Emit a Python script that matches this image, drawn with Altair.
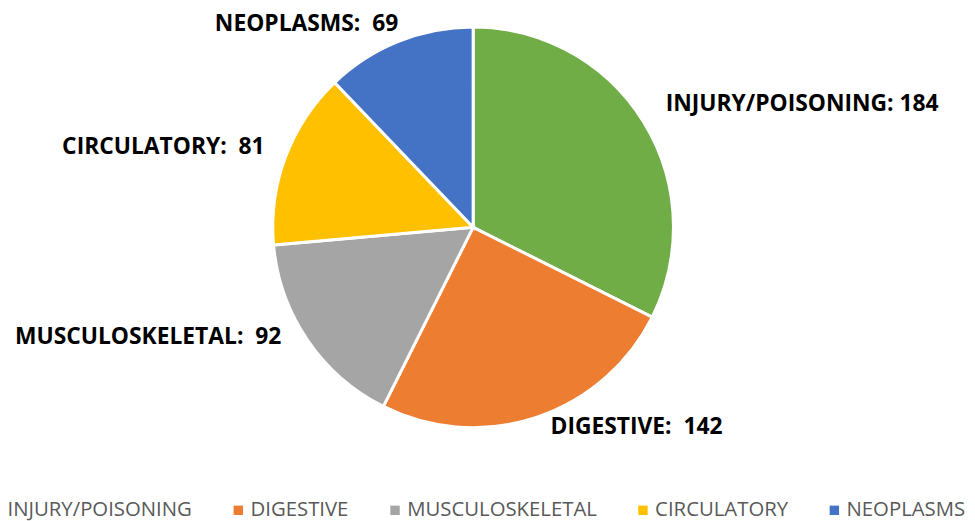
import altair as alt
import pandas as pd

categories = ["INJURY/POISONING", "DIGESTIVE", "MUSCULOSKELETAL", "CIRCULATORY", "NEOPLASMS"]
counts = [184, 142, 92, 81, 69]
colors = ["#70AD47", "#ED7D31", "#A5A5A5", "#FFC000", "#4472C4"]

NBSP = "\u00a0"
df = pd.DataFrame({
    "category": categories,
    "count": counts,
    "idx": list(range(len(categories))),
})
df["label"] = [c + ":" + (NBSP if i == 0 else NBSP * 2) + str(v) for i, (c, v) in enumerate(zip(categories, counts))]

CX, CY, R, LR = 469, 219, 202, 200

base = alt.Chart(df)

pie = base.mark_arc(outerRadius=R, stroke="white", strokeWidth=3).encode(
    theta=alt.Theta("count:Q", stack=True),
    order=alt.Order("idx:Q"),
    color=alt.Color(
        "category:N",
        scale=alt.Scale(domain=categories, range=colors),
        sort=categories,
        legend=alt.Legend(
            title=None,
            orient="none",
            legendX=-23,
            legendY=494,
            direction="horizontal",
            columns=5,
            symbolType="square",
            symbolSize=90,
            symbolStrokeWidth=0,
            labelFont="Open Sans",
            labelFontSize=20.5,
            labelColor="#595959",
            labelOffset=2,
            columnPadding=36,
            labelLimit=400,
        ),
    ),
    x=alt.value(CX),
    y=alt.value(CY),
)

# per-label placement (layout only)
placement = {
    "INJURY/POISONING": ("left", 24, -19),
    "DIGESTIVE": ("left", 15, 12),
    "MUSCULOSKELETAL": ("right", -28, -2),
    "CIRCULATORY": ("right", -23, -11),
    "NEOPLASMS": ("right", -1, -19),
}

label_base = (
    base.transform_joinaggregate(total="sum(count)")
    .transform_window(cum="sum(count)", sort=[alt.SortField("idx")])
    .transform_calculate(mid="(datum.cum - datum.count/2) / datum.total * 2 * PI")
)

layers = [pie]
for cat in categories:
    align, dx, dy = placement[cat]
    layers.append(
        label_base.transform_filter(alt.datum.category == cat)
        .mark_text(
            align=align, baseline="middle", dx=dx, dy=dy,
            font="Open Sans", fontSize=23, fontWeight="bold", color="#000000",
        )
        .encode(
            theta=alt.Theta("mid:Q", scale=None),
            radius=alt.value(LR),
            text="label:N",
            x=alt.value(CX),
            y=alt.value(CY),
        )
    )

chart = (
    alt.layer(*layers)
    .properties(width=967, height=513, autosize=alt.AutoSizeParams(type="none"), padding=0)
    .configure_view(stroke=None)
)

chart.save("out.html", embed_options={"renderer": "svg", "actions": False})
